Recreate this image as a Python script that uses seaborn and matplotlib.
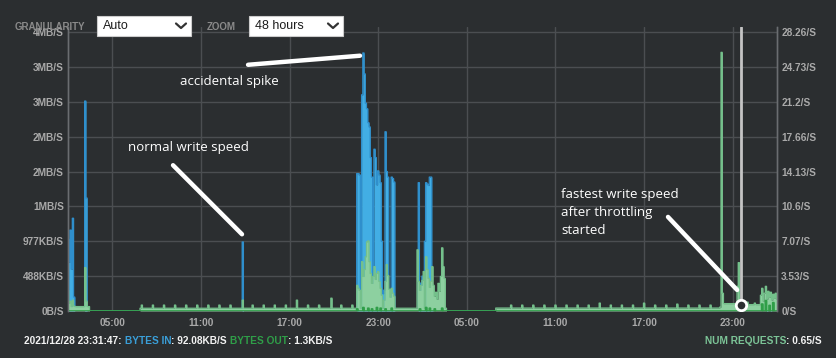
import numpy as np
import pandas as pd
import matplotlib
matplotlib.use("Agg")
import matplotlib.pyplot as plt
import matplotlib.dates as mdates
from matplotlib.lines import Line2D
from matplotlib.patches import Rectangle
import seaborn as sns

# hours are counted from 2021/12/27 00:00, the view spans 48 hours
day0 = pd.Timestamp("2021-12-27 00:00")
view_hours = (2.0, 50.0)
cursor_hour = 47.53          # 2021/12/28 23:31:47
cursor_requests = 0.65

# bytes in (MB/s, left axis)
bytes_in_points = [
    (2.00, 1.03), (2.08, 0.70), (2.17, 1.16), (2.25, 0.60), (2.33, 1.33), (2.42, 0.20),
    (3.17, 3.01), (3.25, 1.62),
    (13.83, 0.99),
    (21.57, 1.97), (21.66, 1.97), (21.75, 1.95), (21.84, 0.30), (21.92, 3.10), (22.00, 3.70),
    (22.08, 3.40), (22.17, 2.98), (22.25, 2.90), (22.33, 2.70), (22.42, 2.64), (22.50, 2.20),
    (22.58, 1.92), (22.67, 0.40), (22.75, 2.32), (22.83, 2.20), (22.92, 1.81), (23.00, 2.01),
    (23.08, 1.95), (23.17, 1.84), (23.25, 1.00), (23.33, 0.25), (23.42, 0.30), (23.50, 2.57),
    (23.58, 2.00), (23.67, 1.92), (23.75, 0.30), (23.83, 0.30), (23.92, 1.92), (24.00, 1.90),
    (24.08, 1.85),
    (25.75, 1.84), (25.83, 0.40), (25.92, 0.30), (26.00, 0.50), (26.08, 0.30), (26.17, 1.00),
    (26.25, 1.84), (26.33, 1.82), (26.42, 1.80), (26.50, 1.92), (26.58, 1.92), (26.67, 0.20),
    (47.50, 0.09), (47.58, 0.05), (49.30, 0.03), (49.60, 0.04),
]

# bytes out (MB/s, left axis)
bytes_out_points = [
    (21.60, 0.03), (22.00, 0.05), (22.33, 0.04), (22.60, 0.03), (22.92, 0.05), (23.17, 0.04),
    (23.50, 0.03), (23.92, 0.04), (25.83, 0.03), (26.25, 0.05), (26.50, 0.04), (26.83, 0.03),
    (27.33, 0.04), (49.04, 0.10), (49.29, 0.15), (49.54, 0.08), (49.79, 0.12),
]

# num requests (/s, right axis)
requests_levels = [
    (2.00, 3.50, 0.45), (3.50, 6.87, 0.0), (6.87, 27.60, 0.28), (27.60, 30.98, 0.0),
    (30.98, 46.25, 0.30), (46.35, 47.50, 0.75), (47.50, 48.95, 0.65), (48.95, 50.01, 1.20),
]
requests_ticks = [
    7.00, 7.75, 8.50, 9.25, 10.00, 10.75, 11.50, 12.25, 13.00, 14.50, 15.25, 16.00, 16.75,
    18.25, 19.00, 20.50, 21.25, 32.00, 32.75, 33.50, 34.25, 35.00, 35.75, 36.50, 37.25,
    38.75, 39.50, 40.25, 41.75, 42.50, 44.00, 44.75, 45.50,
]
requests_points = [
    (2.00, 2.1), (2.08, 0.8), (2.17, 1.0), (2.33, 1.1), (2.42, 0.5), (3.17, 4.4), (3.25, 1.0),
    (13.83, 1.1), (17.50, 1.1), (19.87, 1.3), (38.00, 0.8), (41.00, 0.8), (43.25, 0.7),
    (21.57, 2.6), (21.65, 2.3), (21.77, 2.1), (21.91, 5.0), (22.00, 3.5), (22.08, 4.2),
    (22.16, 5.5), (22.24, 7.0), (22.33, 7.1), (22.41, 5.0), (22.50, 3.8), (22.58, 2.8),
    (22.66, 3.5), (22.72, 4.5), (22.83, 3.2), (22.91, 3.8), (22.99, 4.0), (23.08, 3.0),
    (23.19, 2.3), (23.27, 1.6), (23.40, 1.1), (23.50, 3.0), (23.60, 4.7), (23.67, 3.6),
    (23.75, 2.2), (23.87, 1.4), (23.95, 2.3), (24.04, 1.8), (24.12, 1.5),
    (25.70, 6.2), (25.79, 3.0), (25.87, 2.1), (25.95, 2.6), (26.04, 3.1), (26.12, 4.0),
    (26.24, 5.5), (26.33, 4.2), (26.41, 3.3), (26.50, 2.4), (26.58, 3.0), (26.66, 4.5),
    (26.75, 2.6), (26.83, 1.5), (26.91, 1.9), (26.98, 1.2), (27.08, 2.8), (27.16, 2.0),
    (27.25, 3.5), (27.33, 6.4), (27.41, 4.5), (27.50, 3.3),
    (46.17, 0.4), (46.25, 26.2), (46.33, 1.8), (47.33, 2.5), (47.42, 4.9), (47.50, 1.0),
    (48.00, 0.9), (48.50, 0.8), (48.95, 1.6), (49.04, 2.3), (49.12, 1.0), (49.20, 1.8),
    (49.29, 2.5), (49.37, 1.2), (49.45, 2.0), (49.54, 1.4), (49.62, 1.9), (49.70, 1.1),
    (49.79, 1.7), (49.87, 1.3), (49.95, 1.8),
]

left_ticks = [0, 0.5, 1.0, 1.5, 2.0, 2.5, 3.0, 3.5, 4.0]
left_labels = ["0B/S", "488KB/S", "977KB/S", "1MB/S", "2MB/S", "2MB/S", "3MB/S", "3MB/S", "4MB/S"]
right_ticks = [0, 3.53, 7.07, 10.6, 14.13, 17.66, 21.2, 24.73, 28.26]

# 5 minute samples
grid = np.arange(view_hours[0], view_hours[1] + 1e-9, 1 / 12)
times = day0 + pd.to_timedelta(grid, unit="h")


def at(h):
    return day0 + pd.to_timedelta(h, unit="h")


def build(points, levels=(), ticks=(), tick_value=0.6):
    v = np.zeros(len(grid))
    for h0, h1, lv in levels:
        v[(grid >= h0 - 1e-6) & (grid < h1 - 1e-6)] = lv
    for h in ticks:
        v[int(round((h - grid[0]) * 12))] = tick_value
    for h, val in points:
        v[int(round((h - grid[0]) * 12))] = val
    return v


bytes_in = build(bytes_in_points)
bytes_out = build(bytes_out_points)
requests = build(requests_points, requests_levels, requests_ticks)

bg = "#2b2e30"
grid_col = "#4b4e51"
tick_col = "#a9a9a9"
blue_fill, blue_edge = "#42aee4", "#2f8fcc"
green_fill, green_edge = "#8dd0a0", "#74c08b"
out_col = "#2f9e48"

sns.set_style("dark", rc={"axes.facecolor": bg, "figure.facecolor": bg})
plt.rcParams["font.family"] = ["Liberation Sans", "DejaVu Sans"]

fig = plt.figure(figsize=(8.36, 3.58), dpi=100)
W, H = 836, 358
pad = (311 - 27) / (311 - 32)  # axes reach a little above the top grid line
ax = fig.add_axes([68 / W, (H - 311) / H, (777 - 68) / W, (311 - 27) / H])

# bytes in
ax.fill_between(times, bytes_in, step="mid", color=blue_fill, lw=0)
sns.lineplot(x=times, y=bytes_in, ax=ax, color=blue_edge, lw=0.9, drawstyle="steps-mid",
             estimator=None)
ax.set_ylim(0, 4 * pad)
ax.set_xlim(times[0], times[-1])
ax.set_yticks(left_ticks)
ax.set_yticklabels(left_labels)
ax.set_xlabel("")
ax.set_ylabel("")
ax.grid(True, axis="both", color=grid_col, lw=1)
ax.xaxis.set_major_locator(mdates.HourLocator(byhour=[5, 11, 17, 23]))
ax.xaxis.set_major_formatter(mdates.DateFormatter("%H:%M"))
ax.tick_params(axis="both", length=0, colors=tick_col, labelsize=7.3)
ax.tick_params(axis="y", pad=3)
ax.tick_params(axis="x", pad=5)
for lab in ax.get_xticklabels() + ax.get_yticklabels():
    lab.set_fontweight("bold")

# requests on the right axis
ax2 = ax.twinx()
ax2.fill_between(times, requests, step="mid", color=green_fill, lw=0)
sns.lineplot(x=times, y=requests, ax=ax2, color=green_edge, lw=0.9, drawstyle="steps-mid",
             estimator=None)
# bytes out uses the left scale but sits over the requests area
ax2.fill_between(times, bytes_out, step="mid", color=out_col, lw=0, transform=ax.transData)
ax2.plot(times, bytes_out, color=out_col, lw=1.2, drawstyle="steps-mid", transform=ax.transData)
ax2.set_ylim(0, right_ticks[-1] * pad)
ax2.set_yticks(right_ticks)
ax2.set_yticklabels([f"{v:g}/S" for v in right_ticks])
ax2.set_xlabel("")
ax2.set_ylabel("")
ax2.grid(False)
ax2.tick_params(axis="y", length=0, colors=tick_col, labelsize=7.3, pad=3)
for lab in ax2.get_yticklabels():
    lab.set_fontweight("bold")

for a in (ax, ax2):
    for side in ("top", "bottom"):
        a.spines[side].set_visible(False)
    for side in ("left", "right"):
        a.spines[side].set_color("#6a6d70")
        a.spines[side].set_linewidth(1)

# cursor
ax2.axvline(at(cursor_hour), color="#c4c4c4", lw=2, zorder=5)
ax2.plot([at(cursor_hour)], [cursor_requests], marker="o", ms=7.5, mfc=bg, mec="white", mew=2,
         zorder=6)

# notes
note_font = dict(color="white", fontsize=9.5, family=["Open Sans", "DejaVu Sans"])
line_kw = dict(color="white", lw=3.2, solid_capstyle="round", zorder=7)
ax.text(at(9.58), 3.29, "accidental spike", va="center", ha="left", **note_font)
ax.plot([at(14.19), at(21.77)], [3.53, 3.66], **line_kw)
ax.text(at(6.06), 2.35, "normal write speed", va="center", ha="left", **note_font)
ax.plot([at(9.11), at(13.78)], [2.09, 1.10], **line_kw)
ax.text(at(35.38), 1.76, "fastest write speed\nafter throttling\nstarted", va="top", ha="left",
        linespacing=1.5, **note_font)
ax2.plot([at(42.62), at(47.30)], [9.53, 2.13], **line_kw)

# controls on top
def fx(px):
    return px / W


def fy(py):
    return 1 - py / H


ui_font = dict(color="#8a8a8a", fontsize=7, fontweight="bold", va="center", zorder=10)
fig.text(fx(15), fy(27), "GRANULARITY", **ui_font)
fig.text(fx(207), fy(27), "ZOOM", **ui_font)
for x0, x1, label in [(97, 191, "Auto"), (249, 343, "48 hours")]:
    fig.add_artist(Rectangle((fx(x0), fy(36)), fx(x1 - x0), (36 - 15.5) / H, facecolor="white",
                             edgecolor="#cccccc", lw=0.8, transform=fig.transFigure, zorder=10))
    fig.text(fx(x0 + 6), fy(26), label, color="#1c1c1c", fontsize=9, va="center", zorder=11)
    fig.add_artist(Line2D([fx(x1 - 15), fx(x1 - 10), fx(x1 - 5)], [fy(23.5), fy(28), fy(23.5)],
                          color="#333333", lw=1.6, transform=fig.transFigure, zorder=11))

# status line
status_kw = dict(fontsize=7.3, fontweight="bold", va="bottom", ha="left")


def chain(first, parts):
    t = first
    for text, color, gap in parts:
        t = ax.annotate(text, xy=(1, 0), xycoords=t, xytext=(gap, 0), textcoords="offset points",
                        color=color, annotation_clip=False, **status_kw)
    return t


t0 = fig.text(fx(24), fy(346), "2021/12/28 23:31:47:", color="#f2f2f2", **status_kw)
chain(t0, [("BYTES IN", "#3a9fd9", 2.2), (": 92.08KB/S", "#f2f2f2", 0),
           ("BYTES OUT", out_col, 2.2), (": 1.3KB/S", "#f2f2f2", 0)])
t1 = fig.text(fx(822), fy(346), ": 0.65/S", color="#f2f2f2",
              **{**status_kw, "ha": "right"})
ax.annotate("NUM REQUESTS", xy=(0, 0), xycoords=t1, color="#7cc497", annotation_clip=False,
            **{**status_kw, "ha": "right"})

fig.savefig("out.png", dpi=100, facecolor=bg)
